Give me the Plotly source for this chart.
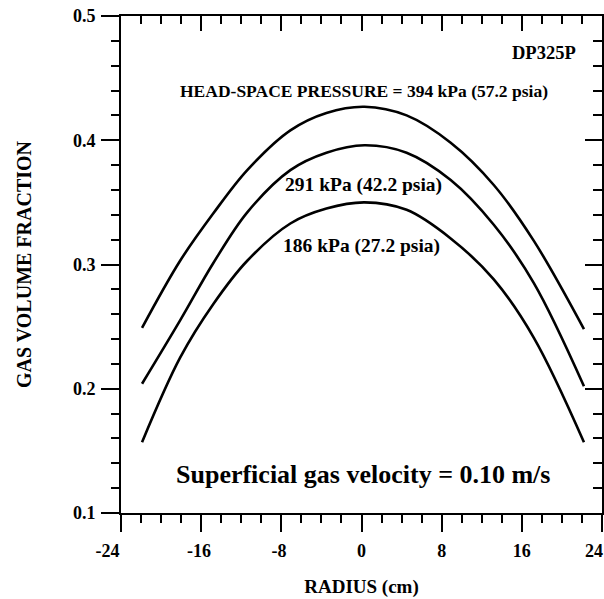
import plotly.graph_objects as go

# Data
radius = [-21.9, -18.1, -14.8, -11.4, -7.1, -3.5, 0.3, 4.5, 8.9, 13.2, 17.2, 22.2]
p394 = [0.249, 0.303, 0.341, 0.376, 0.408, 0.422, 0.427, 0.420, 0.398, 0.364, 0.319, 0.248]
p291 = [0.204, 0.255, 0.301, 0.342, 0.376, 0.390, 0.396, 0.390, 0.368, 0.332, 0.285, 0.202]
p186 = [0.157, 0.225, 0.268, 0.303, 0.333, 0.345, 0.350, 0.344, 0.321, 0.288, 0.241, 0.157]

x_tickvals = [-24, -16, -8, 0, 8, 16, 24]
x_ticklabels = ["-24", "-16", "-8", "0", "8", "16", "24"]
y_tickvals = [0.1, 0.2, 0.3, 0.4, 0.5]
y_ticktext = ["0.1", "0.2", "0.3", "0.4", "0.5"]

FONT = "Liberation Serif, Times New Roman, serif"

# negative labels are set so their digits sit under the tick; the last one (at the edge)
# is drawn right-aligned to its tick so it stays inside the picture
pad = {"-24": "\u00a0" * 6, "-16": "\u00a0", "-8": "\u00a0"}
x_ticktext = [lab + pad.get(lab, "") for lab in x_ticklabels[:-1]] + [""]

fig = go.Figure()
for series in (p394, p291, p186):
    fig.add_trace(go.Scatter(
        x=radius, y=series, mode="lines",
        line=dict(color="black", width=2.6, shape="spline", smoothing=1.0),
        showlegend=False, hoverinfo="skip"))

# invisible trace so the mirrored (top/right) axes are drawn
fig.add_trace(go.Scatter(x=radius, y=p394, xaxis="x2", yaxis="y2", mode="markers",
                         marker=dict(opacity=0), showlegend=False, hoverinfo="skip"))

axis_common = dict(showgrid=False, zeroline=False, showline=True, automargin=False,
                   linecolor="black", linewidth=2, tickcolor="black", tickwidth=2)

fig.update_layout(
    width=604, height=599,
    margin=dict(l=121, r=2, t=16, b=86),
    paper_bgcolor="white", plot_bgcolor="white",
    font=dict(family=FONT, color="black", size=18, weight="bold"),
    xaxis=dict(range=[-24, 24], tickmode="array", tickvals=x_tickvals, ticktext=x_ticktext,
               ticks="outside", ticklen=17, ticklabelstandoff=3, ticklabeloverflow="allow",
               minor=dict(dtick=2, ticks="outside", ticklen=8, tickwidth=2, tickcolor="black"),
               tickfont=dict(family=FONT, size=18, weight="bold"),
               title=dict(text="RADIUS (cm)", font=dict(family=FONT, size=19, weight="bold"), standoff=20),
               **axis_common),
    yaxis=dict(range=[0.1, 0.5], tickmode="array", tickvals=y_tickvals, ticktext=y_ticktext,
               ticks="outside", ticklen=18, ticklabelstandoff=2, ticklabeloverflow="allow",
               minor=dict(dtick=0.02, ticks="outside", ticklen=8, tickwidth=2, tickcolor="black"),
               tickfont=dict(family=FONT, size=18, weight="bold"),
               title=dict(text="GAS VOLUME FRACTION", font=dict(family=FONT, size=20, weight="bold"), standoff=36),
               **axis_common),
    xaxis2=dict(range=[-24, 24], overlaying="x", anchor="y", side="top",
                tickmode="array", tickvals=x_tickvals, showticklabels=False,
                ticks="inside", ticklen=15,
                minor=dict(dtick=2, ticks="inside", ticklen=8, tickwidth=2, tickcolor="black"),
                **axis_common),
    yaxis2=dict(range=[0.1, 0.5], overlaying="y", anchor="x", side="right",
                tickmode="array", tickvals=y_tickvals, showticklabels=False,
                ticks="inside", ticklen=17,
                minor=dict(dtick=0.02, ticks="inside", ticklen=9, tickwidth=2, tickcolor="black"),
                **axis_common),
)

# last x tick label
fig.add_annotation(x=x_tickvals[-1], y=0, xref="x", yref="paper", text=x_ticklabels[-1],
                   xanchor="right", yanchor="top", yshift=-27, xshift=2, showarrow=False,
                   borderpad=0, font=dict(family=FONT, size=18, color="black", weight="bold"))

annots = [
    dict(x=21.6, y=0.470, text="DP325P", xanchor="right", size=18.5),
    dict(x=0.2, y=0.440, text="HEAD-SPACE PRESSURE = 394 kPa (57.2 psia)", xanchor="center", size=17.5),
    dict(x=0.2, y=0.364, text="291 kPa (42.2 psia)", xanchor="center", size=19.5),
    dict(x=0.0, y=0.315, text="186 kPa (27.2 psia)", xanchor="center", size=19.5),
    dict(x=0.1, y=0.131, text="Superficial gas velocity = 0.10 m/s", xanchor="center", size=26),
]
for a in annots:
    fig.add_annotation(x=a["x"], y=a["y"], xref="x", yref="y", text=a["text"],
                       xanchor=a["xanchor"], yanchor="middle", showarrow=False,
                       font=dict(family=FONT, size=a["size"], color="black", weight="bold"))

fig.write_html("out.html", config={"displayModeBar": False},
               post_script="document.body.style.margin='0';document.body.style.overflow='hidden';")
